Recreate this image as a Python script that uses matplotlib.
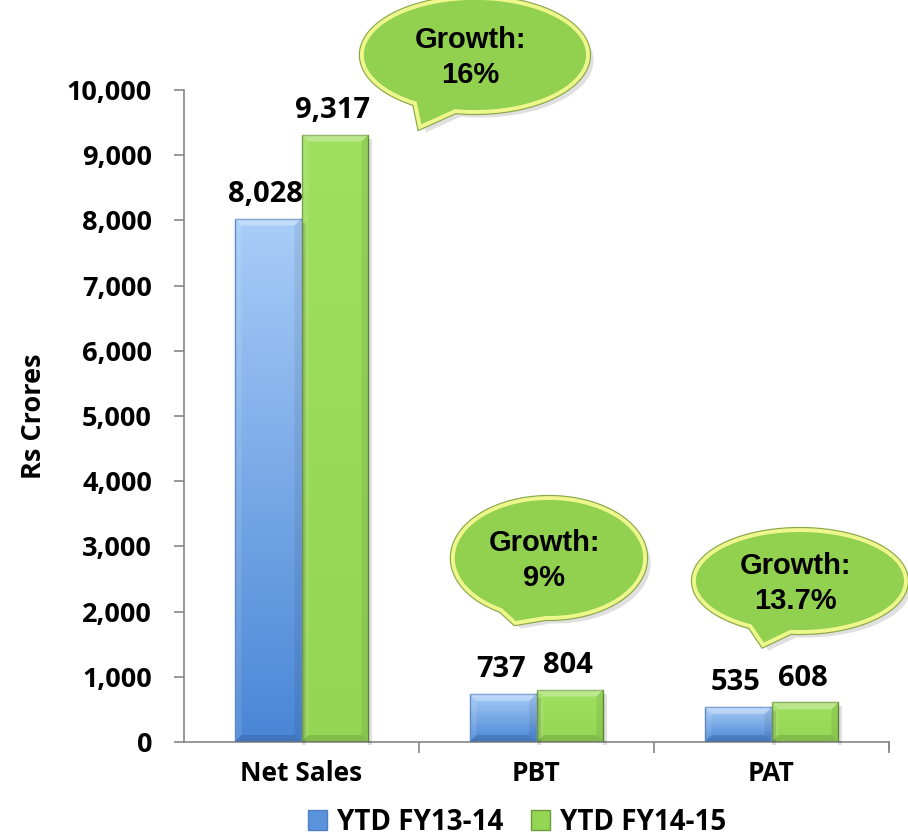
import numpy as np
import matplotlib.pyplot as plt
from matplotlib.path import Path
from matplotlib.patches import PathPatch, Patch
from matplotlib.transforms import ScaledTranslation
import matplotlib.colors as mcolors

# values in Rs Crores
categories = ['Net Sales', 'PBT', 'PAT']
fy1314 = [8028, 737, 535]
fy1415 = [9317, 804, 608]
series_names = ['YTD FY13-14', 'YTD FY14-15']
growth_text = ['Growth:\n16%', 'Growth:\n9%', 'Growth:\n13.7%']

# callout bubbles: centre, half-width, half-height, tail tip, tail base angles
bubble_center = [(0.738, 10537), (1.053, 2822), (2.121, 2469)]
bubble_size = [(0.481, 874), (0.409, 920), (0.451, 782)]
bubble_tip = [(0.504, 9432), (0.909, 1825), (1.964, 1488)]
bubble_gap = [(238, 260), (240, 268), (242, 265)]

lab_font = 'Open Sans'
W, H = 908, 835
fig = plt.figure(figsize=(W / 100, H / 100), dpi=100)
ax = fig.add_axes([184 / W, 93 / H, 705 / W, 652 / H])

x = np.arange(len(categories))
bw = 0.285

bars1 = ax.bar(x - bw / 2, fy1314, bw, color='none', edgecolor='#4f7fc0', lw=1.0, zorder=3)
bars2 = ax.bar(x + bw / 2, fy1415, bw, color='none', edgecolor='#6a9a3c', lw=1.0, zorder=3)

ax.set_xlim(-0.5, 2.5)
ax.set_ylim(0, 10000)
ax.set_yticks(np.arange(0, 10001, 1000))
ax.set_yticklabels([f'{v:,}' for v in range(0, 10001, 1000)])
ax.set_xticks(x)
ax.set_xticklabels(categories)
ax.set_xticks([0.5, 1.5, 2.5], minor=True)
ax.tick_params(axis='x', which='major', length=0, pad=13)
ax.tick_params(axis='x', which='minor', length=8, color='#868686', width=1.2)
ax.tick_params(axis='y', length=7, color='#868686', width=1.2, pad=16)
for lab in ax.get_yticklabels():
    lab.set_fontsize(19.5)
    lab.set_fontweight('bold')
    lab.set_family(lab_font)
for lab in ax.get_xticklabels():
    lab.set_fontsize(19)
    lab.set_fontweight('bold')
    lab.set_family(lab_font)

for s in ['top', 'right']:
    ax.spines[s].set_visible(False)
for s in ['left', 'bottom']:
    ax.spines[s].set_color('#868686')
    ax.spines[s].set_linewidth(1.2)
# closing tick at right end of the category axis
ax.plot([2.5, 2.5], [0, -0.012], transform=ax.get_xaxis_transform(), color='#868686', lw=1.2,
        clip_on=False)

blue_cmap = mcolors.LinearSegmentedColormap.from_list('b', ['#4a86d6', '#a8cdf8'])
green_cmap = mcolors.LinearSegmentedColormap.from_list('g', ['#94d654', '#9fe05e'])

fig.canvas.draw()


def shade_bar(rect, cmap):
    x0, y0 = rect.get_x(), rect.get_y()
    w, h = rect.get_width(), rect.get_height()
    grad = np.linspace(0, 1, 256).reshape(-1, 1)
    im = ax.imshow(grad, cmap=cmap, aspect='auto', origin='lower',
                   extent=[x0, x0 + w, y0, y0 + h], zorder=2)
    im.set_clip_path(rect)
    (px0, py0), (px1, py1) = ax.transData.transform([(x0, y0), (x0 + w, y0 + h)])
    # soft shadow on the right side
    sh = plt.Polygon([(px1, py0 - 3), (px1 + 4, py0 - 3), (px1 + 4, py1 - 4), (px1, py1 - 4)],
                     closed=True, transform=None, fc='#000000', alpha=0.12, lw=0, zorder=1)
    fig.add_artist(sh)
    # bevel strips
    b = min(7, (py1 - py0) / 4)
    faces = [
        ([(px0, py1), (px1, py1), (px1 - b, py1 - b), (px0 + b, py1 - b)], 'white', 0.30),
        ([(px0, py0), (px0, py1), (px0 + b, py1 - b), (px0 + b, py0 + b)], 'white', 0.10),
        ([(px1, py0), (px1, py1), (px1 - b, py1 - b), (px1 - b, py0 + b)], 'black', 0.07),
        ([(px0, py0), (px1, py0), (px1 - b, py0 + b), (px0 + b, py0 + b)], 'black', 0.12),
    ]
    for pts, c, a in faces:
        fig.add_artist(plt.Polygon(pts, closed=True, transform=None, fc=c, alpha=a, lw=0,
                                   zorder=4))


for r in bars1:
    shade_bar(r, blue_cmap)
for r in bars2:
    shade_bar(r, green_cmap)

# value labels
for bars, vals in [(bars1, fy1314), (bars2, fy1415)]:
    for r, v in zip(bars, vals):
        ax.text(r.get_x() + r.get_width() / 2 - 0.01, v + 150, f'{v:,}', ha='center',
                va='bottom', fontsize=21, fontweight='bold', family=lab_font, zorder=5)


def bubble(c, size, tip, gap, text):
    cx, cy = c
    a, b = size
    g0, g1 = np.radians(gap[0]), np.radians(gap[1])
    t = np.linspace(g1, g0 + 2 * np.pi, 200)
    pts = [(cx + a * np.cos(tt), cy + b * np.sin(tt)) for tt in t]
    pts.append(tip)
    pts.append(pts[0])
    codes = [Path.MOVETO] + [Path.LINETO] * (len(pts) - 2) + [Path.CLOSEPOLY]
    path = Path(pts, codes)
    off = ScaledTranslation(4 / 72, -4 / 72, fig.dpi_scale_trans)
    ax.add_patch(PathPatch(path, fc='#000000', ec='none', alpha=0.12, clip_on=False, zorder=5,
                           transform=ax.transData + off))
    ax.add_patch(PathPatch(path, fc='#92d050', ec='#8aa84a', lw=4.5, clip_on=False, zorder=6))
    ax.add_patch(PathPatch(path, fc='#92d050', ec='#eef78c', lw=2.8, clip_on=False, zorder=6))
    ax.text(cx - 0.02, cy - 40, text, ha='center', va='center', fontsize=21, fontweight='bold',
            family='Liberation Sans', linespacing=1.35, zorder=7, clip_on=False)


for c, s, tp, gp, txt in zip(bubble_center, bubble_size, bubble_tip, bubble_gap, growth_text):
    bubble(c, s, tp, gp, txt)

ax.set_ylabel('Rs Crores', fontsize=19.5, fontweight='bold', family=lab_font, labelpad=14)

handles = [Patch(fc='#5a92dc', ec='#4f7fc0'), Patch(fc='#94d654', ec='#6a9a3c')]
fig.legend(handles, series_names, loc='center', bbox_to_anchor=(517 / W, 1 - 822 / H),
           ncol=2, frameon=False, prop={'family': lab_font, 'weight': 'bold', 'size': 20},
           handlelength=0.7, handleheight=0.7, handletextpad=0.35, columnspacing=1.0)

fig.savefig('out.png', dpi=100)
